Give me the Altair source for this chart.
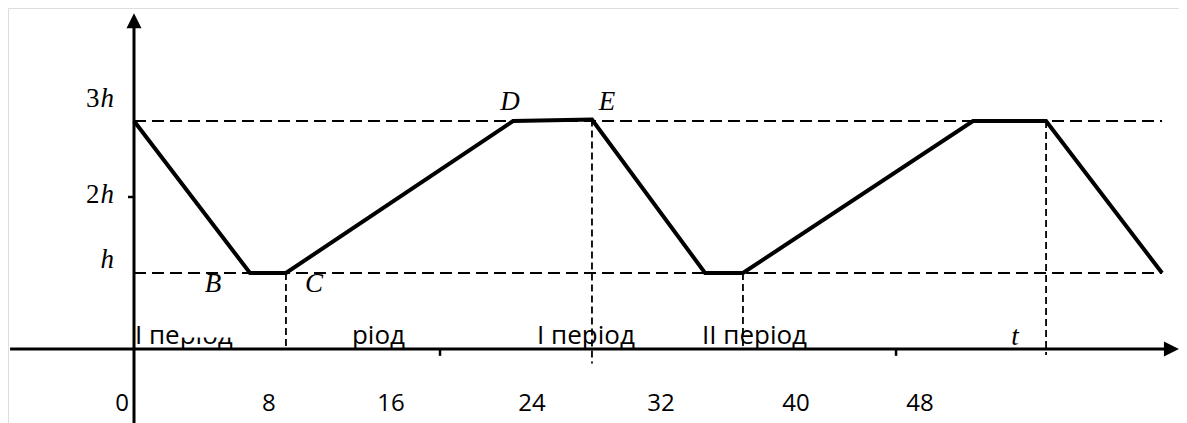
import altair as alt
import pandas as pd

# ---- values (t in hours, level in units of h) ----
curve_t = [0, 7.16, 9.38, 23.40, 28.27, 35.25, 37.59, 51.79, 56.30, 63.46]
curve_v = [3, 1, 1, 3, 3.02, 1, 1, 3, 3, 1]

ref_levels = [1, 3]
ref_t0 = [0, 0]
ref_t1 = [63.46, 63.46]

vline_t = [9.38, 28.27, 37.59, 56.30]
vline_top = [1, 3.02, 1, 3]
vline_bottom = [0, -0.19, 0, -0.08]

tick_labels = ["0", "8", "16", "24", "32", "40", "48"]
tick_label_t = [-0.74, 8.33, 15.86, 24.57, 32.53, 40.86, 48.52]

axis_tick_t = [18.89, 47.04]

period_text = ["I період", "II період", "I період", "II період"]
period_t = [0.06, 16.73, 24.88, 35.06]
period_align = ["left", "right", "left", "left"]

mask_t0 = [2.80, 9.57]
mask_t1 = [6.40, 13.40]
mask_v0 = [0.151, 0.02]
mask_v1 = [0.487, 0.487]

point_names = ["B", "C", "D", "E", "t"]
point_t = [4.88, 11.11, 23.21, 29.2, 54.38]
point_v = [0.75, 0.75, 3.14, 3.14, 0.05]

ylab_num = ["3", "2", ""]
ylab_v = [3.18, 1.92, 1.07]
ylab_t = [-2.07, -2.07, -2.07]

x_dom = [-7.778, 64.506]
y_dom = [-0.974, 4.487]

xs = alt.Scale(domain=x_dom, nice=False, zero=False)
ys = alt.Scale(domain=y_dom, nice=False, zero=False)


def X(f):
    return alt.X(f, type="quantitative", scale=xs, axis=None)


def Y(f):
    return alt.Y(f, type="quantitative", scale=ys, axis=None)


curve = pd.DataFrame({"t": curve_t, "v": curve_v, "i": range(len(curve_t))})
refs = pd.DataFrame({"v": ref_levels, "t0": ref_t0, "t1": ref_t1})
vl = pd.DataFrame({"t": vline_t, "a": vline_top, "b": vline_bottom})
tl = pd.DataFrame({"lab": tick_labels, "t": tick_label_t, "v": [-0.816] * len(tick_labels)})
at = pd.DataFrame({"t": axis_tick_t, "a": [0] * 2, "b": [-0.09] * 2})
per = pd.DataFrame({"lab": period_text, "t": period_t, "al": period_align, "v": [0.066] * 4})
masks = pd.DataFrame({"t0": mask_t0, "t1": mask_t1, "v0": mask_v0, "v1": mask_v1})
pts = pd.DataFrame({"lab": point_names, "t": point_t, "v": point_v})
yl = pd.DataFrame({"num": ylab_num, "t": ylab_t, "v": ylab_v})
xaxis = pd.DataFrame({"t0": [-7.65], "t1": [64.0], "v": [0]})
yaxis = pd.DataFrame({"t": [0], "v0": [-0.974], "v1": [4.3]})
ytick = pd.DataFrame({"t0": [-0.37], "t1": [0], "v": [2]})
arrows = pd.DataFrame({"t": [0, 64.04], "v": [4.32, 0], "k": ["up", "right"]})

layers = []

# period texts (partly masked as in the picture)
for al in ["left", "right"]:
    layers.append(
        alt.Chart(per[per.al == al]).mark_text(
            align=al, baseline="alphabetic", font="Open Sans", fontSize=26, color="black"
        ).encode(x=X("t"), y=Y("v"), text="lab:N")
    )
layers.append(
    alt.Chart(masks).mark_rect(color="white").encode(
        x=X("t0"), x2=alt.X2("t1"), y=Y("v0"), y2=alt.Y2("v1")
    )
)

# reference dashed levels
layers.append(
    alt.Chart(refs).mark_rule(color="black", strokeWidth=1.8, strokeDash=[12, 6]).encode(
        x=X("t0"), x2=alt.X2("t1"), y=Y("v")
    )
)
# vertical dashed lines
layers.append(
    alt.Chart(vl).mark_rule(color="black", strokeWidth=1.8, strokeDash=[7, 4]).encode(
        x=X("t"), y=Y("a"), y2=alt.Y2("b")
    )
)
# axes
layers.append(
    alt.Chart(xaxis).mark_rule(color="black", strokeWidth=3).encode(
        x=X("t0"), x2=alt.X2("t1"), y=Y("v")
    )
)
layers.append(
    alt.Chart(yaxis).mark_rule(color="black", strokeWidth=3).encode(
        x=X("t"), y=Y("v0"), y2=alt.Y2("v1")
    )
)
layers.append(
    alt.Chart(ytick).mark_rule(color="black", strokeWidth=2.5).encode(
        x=X("t0"), x2=alt.X2("t1"), y=Y("v")
    )
)
layers.append(
    alt.Chart(at).mark_rule(color="black", strokeWidth=2.5).encode(
        x=X("t"), y=Y("a"), y2=alt.Y2("b")
    )
)
layers.append(
    alt.Chart(arrows[arrows.k == "up"]).mark_point(
        shape="M0,-1L-1,1L1,1Z", size=225, filled=True, color="black", opacity=1
    ).encode(x=X("t"), y=Y("v"))
)
layers.append(
    alt.Chart(arrows[arrows.k == "right"]).mark_point(
        shape="M1,0L-1,-1L-1,1Z", size=225, filled=True, color="black", opacity=1
    ).encode(x=X("t"), y=Y("v"))
)
# main curve
layers.append(
    alt.Chart(curve).mark_line(color="black", strokeWidth=4, strokeJoin="miter").encode(
        x=X("t"), y=Y("v"), order="i:Q"
    )
)
# tick labels
layers.append(
    alt.Chart(tl).mark_text(
        align="center", baseline="alphabetic", font="Open Sans", fontSize=24, color="black"
    ).encode(x=X("t"), y=Y("v"), text="lab:N")
)
# point labels
layers.append(
    alt.Chart(pts).mark_text(
        align="center", baseline="alphabetic", font="Liberation Serif", fontStyle="italic",
        fontSize=27, color="black"
    ).encode(x=X("t"), y=Y("v"), text="lab:N")
)
# y labels: number upright, h italic
layers.append(
    alt.Chart(yl).mark_text(
        align="right", baseline="alphabetic", font="Liberation Serif", fontSize=27,
        color="black", dx=-1
    ).encode(x=X("t"), y=Y("v"), text="num:N")
)
layers.append(
    alt.Chart(yl).mark_text(
        align="left", baseline="alphabetic", font="Liberation Serif", fontStyle="italic",
        fontSize=27, color="black"
    ).encode(x=X("t"), y=Y("v"), text=alt.value("h"))
)

chart = (
    alt.layer(*layers)
    .properties(width=1171, height=415, padding=0, autosize=alt.AutoSizeParams(type="none"))
    .configure_view(strokeWidth=0, stroke="transparent")
    .configure(background="white")
)

chart.save("out.html", embed_options={"renderer": "svg", "actions": False})
